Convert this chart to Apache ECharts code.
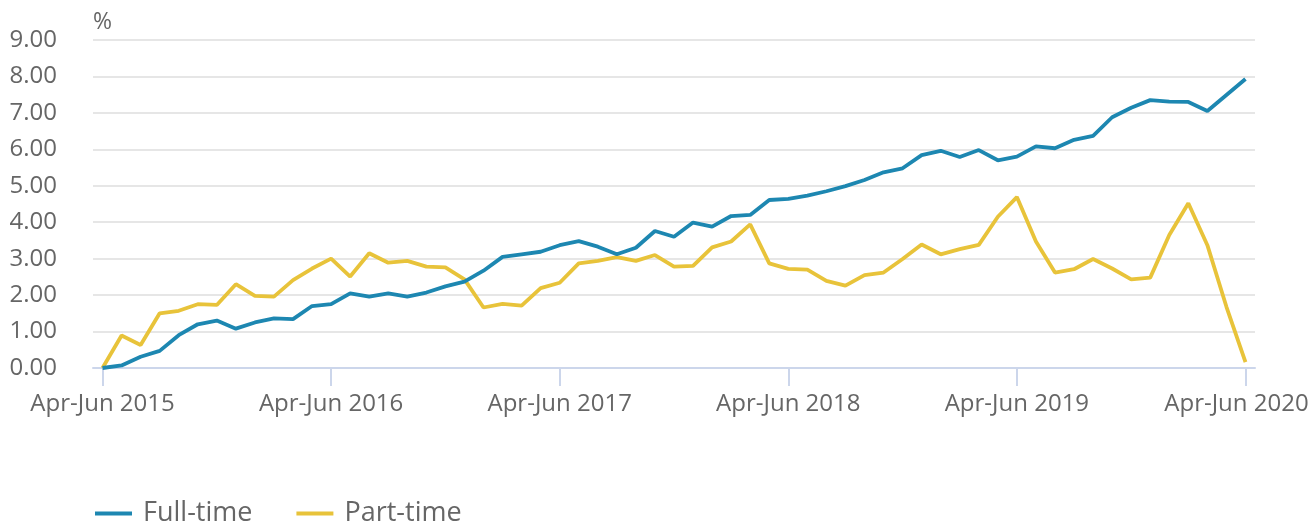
<!DOCTYPE html>
<html>
<head>
<meta charset="utf-8">
<script src="https://cdn.jsdelivr.net/npm/echarts@6/dist/echarts.min.js"></script>
<style>
  html, body { margin: 0; padding: 0; background: #fff; }
  #chart { width: 1315px; height: 522px; }
</style>
</head>
<body>
<div id="chart"></div>
<script>
// rolling three-month periods, Apr-Jun 2015 .. Apr-Jun 2020
var monthNames = ['Jan','Feb','Mar','Apr','May','Jun','Jul','Aug','Sep','Oct','Nov','Dec'];
var categories = [];
for (var k = 0; k <= 60; k++) {
  var s = 3 + k, e = s + 2;
  categories.push(monthNames[s % 12] + '-' + monthNames[e % 12] + ' ' + (2015 + Math.floor(e / 12)));
}

var fullTime = [
  0.00, 0.07, 0.31, 0.47, 0.90, 1.20, 1.30, 1.08, 1.25, 1.36, 1.34, 1.70,
  1.75, 2.05, 1.96, 2.05, 1.96, 2.07, 2.24, 2.37, 2.67, 3.05, 3.12, 3.19,
  3.37, 3.48, 3.33, 3.12, 3.30, 3.76, 3.60, 3.99, 3.88, 4.17, 4.20, 4.61,
  4.64, 4.73, 4.85, 4.99, 5.16, 5.37, 5.48, 5.84, 5.96, 5.79, 5.98, 5.70,
  5.80, 6.08, 6.03, 6.26, 6.37, 6.88, 7.14, 7.35, 7.31, 7.30, 7.05, 7.49,
  7.93
];
var partTime = [
  0.00, 0.89, 0.63, 1.50, 1.57, 1.75, 1.73, 2.30, 1.98, 1.96, 2.41, 2.73,
  3.00, 2.51, 3.15, 2.89, 2.94, 2.78, 2.76, 2.43, 1.66, 1.76, 1.71, 2.19,
  2.34, 2.87, 2.94, 3.04, 2.94, 3.10, 2.78, 2.80, 3.31, 3.47, 3.94, 2.87,
  2.72, 2.70, 2.39, 2.26, 2.55, 2.62, 2.99, 3.39, 3.12, 3.26, 3.38, 4.15,
  4.69, 3.47, 2.62, 2.71, 2.99, 2.73, 2.43, 2.48, 3.65, 4.52, 3.37, 1.68,
  0.16
];

var seriesNames = ['Full-time', 'Part-time'];
var colors = ['#1d87b1', '#e8c33a'];
var font = '"Open Sans", "Noto Sans", sans-serif';

var chart = echarts.init(document.getElementById('chart'));
var option = {
  animation: false,
  textStyle: { fontFamily: font },
  grid: { left: 93, right: 60, top: 40, bottom: 154, containLabel: false },
  legend: {
    data: seriesNames,
    left: 90,
    top: 495,
    icon: 'rect',
    itemWidth: 37,
    itemHeight: 4,
    itemGap: 44,
    textStyle: { fontSize: 27, color: '#666666', fontFamily: font, padding: [0, 0, 0, 6] }
  },
  xAxis: {
    type: 'category',
    data: categories,
    boundaryGap: true,
    axisLine: { lineStyle: { color: '#ccd6eb', width: 2 } },
    axisTick: { show: true, alignWithLabel: true, interval: 11, length: 18, lineStyle: { color: '#ccd6eb', width: 2 } },
    axisLabel: {
      interval: 11,
      margin: 24,
      color: '#666666',
      fontSize: 24,
      fontFamily: font,
      formatter: function (v, i) {
        return i === categories.length - 1 ? '{last|' + v + '}' : v;
      },
      rich: { last: { fontSize: 24, color: '#666666', fontFamily: font, padding: [0, 18, 0, 0] } }
    },
    splitLine: { show: false }
  },
  yAxis: {
    type: 'value',
    min: 0,
    max: 9,
    interval: 1,
    name: '%',
    nameLocation: 'end',
    nameGap: 6,
    nameTextStyle: { color: '#666666', fontSize: 23, fontFamily: font, align: 'left', padding: [0, 0, 0, 0] },
    axisLine: { show: false },
    axisTick: { show: false },
    axisLabel: {
      margin: 36,
      color: '#666666',
      fontSize: 24,
      fontFamily: font,
      formatter: function (v) { return v.toFixed(2); }
    },
    splitLine: { lineStyle: { color: '#e6e6e6', width: 2 } }
  },
  series: [
    {
      name: seriesNames[0],
      type: 'line',
      data: fullTime,
      color: colors[0],
      symbol: 'none',
      lineStyle: { width: 3.8 },
      z: 3
    },
    {
      name: seriesNames[1],
      type: 'line',
      data: partTime,
      color: colors[1],
      symbol: 'none',
      lineStyle: { width: 3.8 },
      z: 2
    }
  ]
};
chart.setOption(option);
</script>
</body>
</html>
